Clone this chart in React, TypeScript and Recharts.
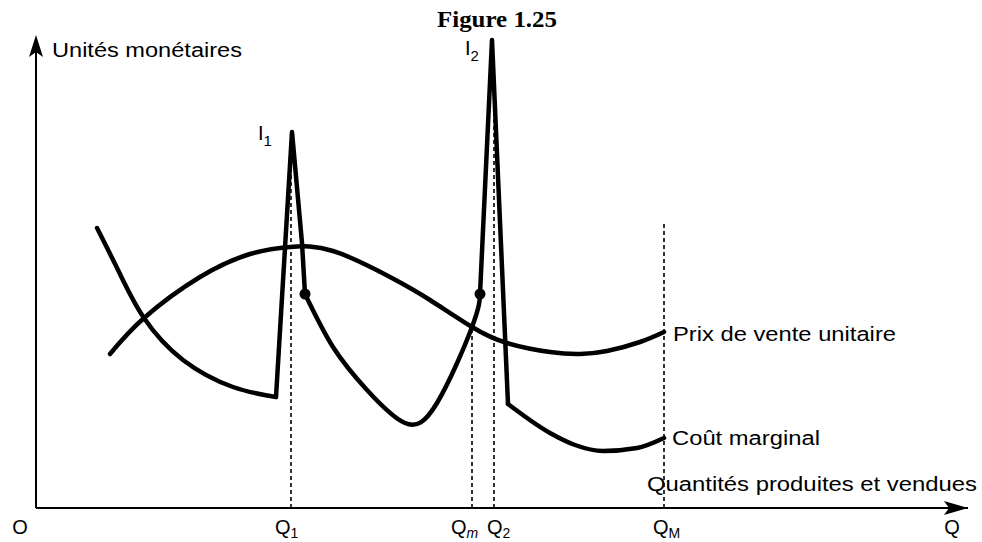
import { LineChart, Line, XAxis, YAxis, ReferenceLine, ReferenceDot } from "recharts";

// unités arbitraires (pas d'échelle dans l'original)
const prixVente = [
  { x: 7.4, y: 15.4 },
  { x: 10.8, y: 19.0 },
  { x: 16.4, y: 23.1 },
  { x: 21.4, y: 25.4 },
  { x: 25.4, y: 26.1 },
  { x: 29.7, y: 25.7 },
  { x: 35.4, y: 23.1 },
  { x: 39.4, y: 20.8 },
  { x: 43.6, y: 18.1 },
  { x: 47.1, y: 16.5 },
  { x: 51.4, y: 15.6 },
  { x: 54.4, y: 15.4 },
  { x: 57.1, y: 15.7 },
  { x: 60.4, y: 16.6 },
  { x: 62.8, y: 17.6 },
];

const coutGauche = [
  { x: 6.1, y: 28.0 },
  { x: 8.4, y: 23.4 },
  { x: 10.8, y: 19.0 },
  { x: 14.7, y: 14.8 },
  { x: 19.7, y: 12.1 },
  { x: 24.0, y: 11.1 },
];

const picI1 = [
  { x: 24.0, y: 11.1 },
  { x: 25.6, y: 37.6 },
  { x: 26.6, y: 26.5 },
  { x: 26.9, y: 21.4 },
];

const coutMilieu = [
  { x: 26.9, y: 21.4 },
  { x: 29.7, y: 16.1 },
  { x: 33.1, y: 11.8 },
  { x: 36.9, y: 8.5 },
  { x: 40.1, y: 10.5 },
  { x: 43.6, y: 18.1 },
  { x: 44.4, y: 21.4 },
];

const picI2 = [
  { x: 44.4, y: 21.4 },
  { x: 45.6, y: 46.8 },
  { x: 47.2, y: 10.4 },
];

const coutDroite = [
  { x: 47.2, y: 10.4 },
  { x: 51.4, y: 7.5 },
  { x: 53.9, y: 6.3 },
  { x: 56.7, y: 5.7 },
  { x: 60.1, y: 6.0 },
  { x: 62.8, y: 7.0 },
];

// Q1, Qm, Q2, QM et hauteur des pointillés
const quantites = [25.5, 43.6, 45.8, 62.8];
const hautPointilles = [36.5, 18.1, 44.5, 28.4];

const tickValues = [0, 25.5, 43.6, 45.8, 62.8, 91.6];
const tickLabels = ["O", "Q1", "Qm", "Q2", "QM", "Q"];

const pointsNoirs = [
  { x: 26.9, y: 21.4 },
  { x: 44.4, y: 21.4 },
];

const FONT = "'Liberation Sans', Arial, sans-serif";
const X_MAX = 93.2;
const Y_MAX = 47.3;

function QTick(props: any) {
  const { x, y, payload } = props;
  const i = tickValues.indexOf(payload.value);
  const label = tickLabels[i];
  const by = y + 26;
  if (label === "O" || label === "Q") {
    return (
      <text x={label === "O" ? x - 16 : x} y={by} textAnchor="middle" fontSize={20} fontFamily={FONT} fill="#000">
        {label}
      </text>
    );
  }
  const dx: Record<string, number> = { Q1: -16, Qm: -21, Q2: -7, QM: -11 };
  const sub = label.slice(1);
  return (
    <text x={x + dx[label]} y={by} fontSize={20} fontFamily={FONT} fill="#000">
      Q
      <tspan dy={4} fontSize={14} fontStyle={sub === "m" ? "italic" : "normal"}>
        {sub}
      </tspan>
    </text>
  );
}

function arrowRight(p: any) {
  const { cx, cy } = p;
  return <path d={`M${cx},${cy} L${cx - 24},${cy - 7} L${cx - 19},${cy} L${cx - 24},${cy + 7} Z`} fill="#000" />;
}

function arrowUp(p: any) {
  const { cx, cy } = p;
  return <path d={`M${cx},${cy} L${cx - 7},${cy + 22} L${cx},${cy + 17} L${cx + 7},${cy + 22} Z`} fill="#000" />;
}

function textMark(content: any, dx: number, dy: number, extra: any = {}) {
  return (p: any) => (
    <text x={p.cx + dx} y={p.cy + dy} fontSize={20} fontFamily={FONT} fill="#000" {...extra}>
      {content}
    </text>
  );
}

export default function App() {
  const curve = {
    stroke: "#000",
    strokeWidth: 4.5,
    dot: false,
    isAnimationActive: false,
    dataKey: "y",
    strokeLinecap: "round" as const,
    strokeLinejoin: "round" as const,
  };
  return (
    <div style={{ width: 982, height: 542, background: "#fff" }}>
      <style>{"body{margin:0}"}</style>
      <LineChart width={982} height={542} margin={{ top: 35, right: 14, left: 36, bottom: 0 }}>
        <XAxis
          type="number"
          dataKey="x"
          domain={[0, X_MAX]}
          ticks={tickValues}
          interval={0}
          allowDataOverflow
          height={34}
          tickLine={false}
          tickSize={0}
          tickMargin={0}
          axisLine={{ stroke: "#000", strokeWidth: 2 }}
          tick={<QTick />}
        />
        <YAxis type="number" domain={[0, Y_MAX]} allowDataOverflow width={0} tick={false} tickLine={false} axisLine={false} />

        {/* axe vertical */}
        <ReferenceLine
          segment={[{ x: 0, y: 0 }, { x: 0, y: Y_MAX - 1.6 }]}
          stroke="#000"
          strokeWidth={2}
          ifOverflow="visible"
        />

        {quantites.map((q, i) => (
          <ReferenceLine
            key={q}
            segment={[{ x: q, y: 0 }, { x: q, y: hautPointilles[i] }]}
            stroke="#000"
            strokeWidth={1.6}
            strokeDasharray="4 3"
            ifOverflow="visible"
          />
        ))}

        <Line data={prixVente} type="natural" {...curve} />
        <Line data={coutGauche} type="natural" {...curve} />
        <Line data={picI1} type="linear" {...curve} />
        <Line data={coutMilieu} type="natural" {...curve} />
        <Line data={picI2} type="linear" {...curve} />
        <Line data={coutDroite} type="monotone" {...curve} />

        {pointsNoirs.map((p) => (
          <ReferenceDot key={p.x} x={p.x} y={p.y} r={5.5} fill="#000" stroke="none" ifOverflow="visible" />
        ))}

        <ReferenceDot x={X_MAX} y={0} ifOverflow="visible" shape={arrowRight} />
        <ReferenceDot x={0} y={Y_MAX} ifOverflow="visible" shape={arrowUp} />

        <ReferenceDot
          x={46.1}
          y={Y_MAX}
          ifOverflow="visible"
          shape={textMark("Figure 1.25", -60, -8, {
            fontFamily: "'Liberation Serif', 'Times New Roman', serif",
            fontWeight: "bold",
            fontSize: 23,
            textLength: 120,
            lengthAdjust: "spacingAndGlyphs",
          })}
        />
        <ReferenceDot
          x={0}
          y={Y_MAX}
          ifOverflow="visible"
          shape={textMark("Unités monétaires", 16, 22, { textLength: 190, lengthAdjust: "spacingAndGlyphs" })}
        />
        <ReferenceDot
          x={62.8}
          y={17.6}
          ifOverflow="visible"
          shape={textMark("Prix de vente unitaire", 9, 9, { textLength: 223, lengthAdjust: "spacingAndGlyphs" })}
        />
        <ReferenceDot
          x={62.8}
          y={7.0}
          ifOverflow="visible"
          shape={textMark("Coût marginal", 8, 7, { textLength: 148, lengthAdjust: "spacingAndGlyphs" })}
        />
        <ReferenceDot
          x={62.8}
          y={0}
          ifOverflow="visible"
          shape={textMark("Quantités produites et vendues", -17, -17, { textLength: 330, lengthAdjust: "spacingAndGlyphs" })}
        />
        <ReferenceDot
          x={25.6}
          y={37.6}
          ifOverflow="visible"
          shape={textMark(
            <>
              I<tspan dy={6} fontSize={15}>1</tspan>
            </>,
            -34,
            8
          )}
        />
        <ReferenceDot
          x={45.6}
          y={46.8}
          ifOverflow="visible"
          shape={textMark(
            <>
              I<tspan dy={6} fontSize={15}>2</tspan>
            </>,
            -27,
            15
          )}
        />
      </LineChart>
    </div>
  );
}
